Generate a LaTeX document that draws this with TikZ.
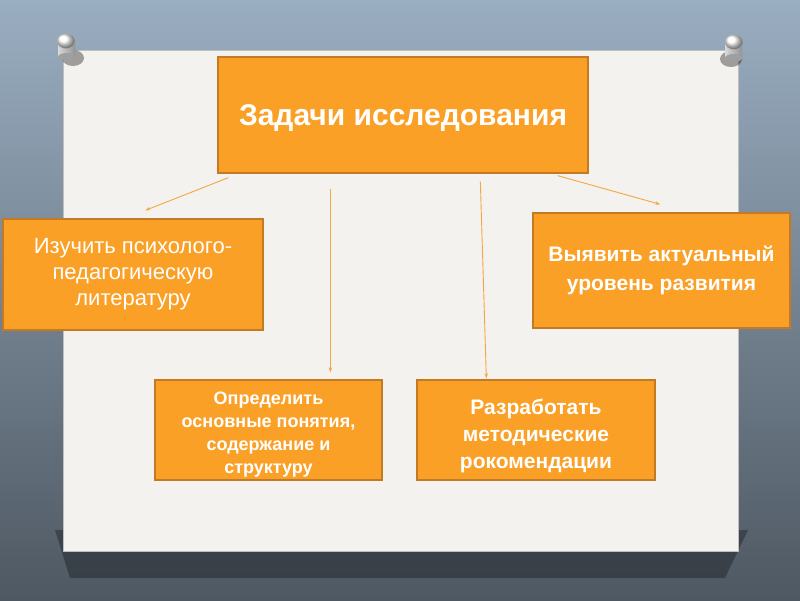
\documentclass[tikz,border=0pt]{standalone}
\usepackage{fontspec}
\setmainfont{Liberation Sans}
\usetikzlibrary{arrows.meta,calc}
\definecolor{boxorange}{HTML}{FBA026}
\definecolor{boxedge}{HTML}{C47A22}
\definecolor{linkorange}{HTML}{F5A640}
\definecolor{paper}{HTML}{F3F2EF}
\definecolor{walltop}{HTML}{9AAEC1}
\definecolor{wallmid}{HTML}{74828E}
\definecolor{wallbot}{HTML}{4E5862}

\begin{document}
\begin{tikzpicture}[x=1pt,y=-1pt,
  box/.style={draw=boxedge,line width=1.3pt,fill=boxorange,text=white,align=center,inner sep=0pt},
  link/.style={linkorange,line width=0.9pt,-{Stealth[length=5pt,width=3.5pt]}},
  pinhead/.style={ball color=white,draw=gray!60,line width=0.3pt}]
  \useasboundingbox (0,0) rectangle (800,600);
  \shade[top color=walltop,middle color=wallmid,bottom color=wallbot] (0,0) rectangle (800,600);
  \fill[black,opacity=0.3] (55,530) -- (748,530) -- (725,578) -- (70,578) -- cycle;
  \fill[paper,draw=gray!50,line width=0.6pt] (63,50) rectangle (738,551);
  % pins
  \fill[black,opacity=0.35] (73,58) ellipse (11 and 8);
  \shade[left color=gray!30,right color=gray!85] (58,42) rectangle (75,57);
  \fill[gray!75] (66.5,57) ellipse (8.5 and 4);
  \shade[pinhead] (66,41) ellipse (9 and 7.5);
  \fill[black,opacity=0.35] (731,59) ellipse (11 and 8);
  \shade[left color=gray!30,right color=gray!85] (725,43) rectangle (742,58);
  \fill[gray!75] (733.5,58) ellipse (8.5 and 4);
  \shade[pinhead] (734,42) ellipse (9 and 7.5);
  % boxes
  \node[box,minimum width=370,minimum height=116,text depth=0pt,font=\fontsize{30}{36}\selectfont\bfseries]
    (task) at (403,115) {Задачи исследования};
  \node[box,minimum width=260,minimum height=111,font=\fontsize{22}{26}\selectfont]
    (study) at (133,274.5) {Изучить психолого-\\педагогическую\\литературу};
  \node[box,minimum width=257,minimum height=115,font=\fontsize{21}{29}\selectfont\bfseries]
    (level) at (661.5,270.5) {Выявить актуальный\\уровень развития};
  \node[box,minimum width=227,minimum height=100,font=\fontsize{18}{23}\selectfont\bfseries]
    (define) at (268.5,430) {\rule{0pt}{21pt}Определить\\основные понятия,\\содержание и\\структуру};
  \node[box,minimum width=238,minimum height=100,font=\fontsize{21}{27}\selectfont\bfseries]
    (method) at (536,430) {\rule{0pt}{28pt}Разработать\\методические\\рокомендации};
  % links
  \draw[link] ($(task.south west)+(11,4)$) -- ($(study.north west)+(143,-8)$);
  \draw[link] ($(task.south west)+(113,15)$) -- ($(define.north west)+(176,-7)$);
  \draw[link] ($(task.south west)+(263,8)$) -- ($(method.north west)+(70,-1)$);
  \draw[link] ($(task.south east)+(-31,2)$) -- ($(level.north west)+(128,-8)$);
\end{tikzpicture}
\end{document}
